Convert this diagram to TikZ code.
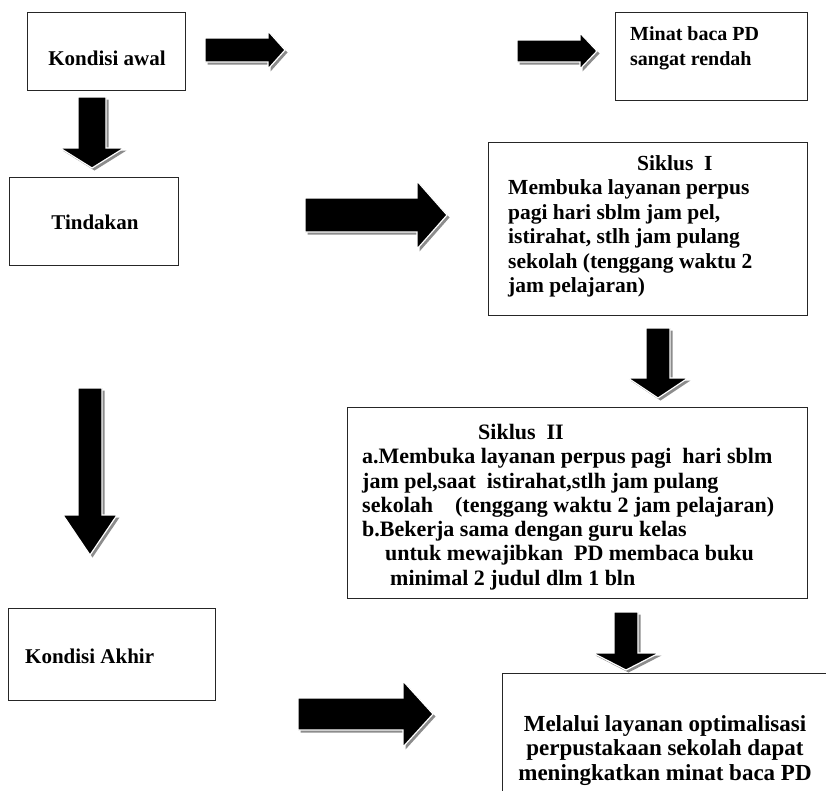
\documentclass[tikz,border=0pt]{standalone}
\usepackage{fontspec}
\setmainfont{Liberation Serif}
\usetikzlibrary{positioning}
\setlength{\lineskiplimit}{-100pt}

\tikzset{
  kotak/.style={draw=black!85, line width=1.3pt, fill=white, inner sep=0pt},
  teks/.style={inner sep=0pt, align=left, font=\bfseries\fontsize{21}{22.5}\selectfont},
  bayang/.style={fill=black!45},
  blok/.style={fill=black, draw=white, line width=1.2pt, line join=miter},
}

% block arrow to the right: x start, x head, x tip, y centre, half body, half head
\newcommand{\panahkanan}[6]{%
  \fill[bayang, shift={(2.5,2.5)}] (#1,{#4-#5}) -- (#2,{#4-#5}) -- (#2,{#4-#6}) -- (#3,#4)
    -- (#2,{#4+#6}) -- (#2,{#4+#5}) -- (#1,{#4+#5}) -- cycle;
  \filldraw[blok] (#1,{#4-#5}) -- (#2,{#4-#5}) -- (#2,{#4-#6}) -- (#3,#4)
    -- (#2,{#4+#6}) -- (#2,{#4+#5}) -- (#1,{#4+#5}) -- cycle;}

% block arrow downwards: x centre, y start, y head, y tip, half body, half head
\newcommand{\panahbawah}[6]{%
  \fill[bayang, shift={(2.5,2.5)}] ({#1-#5},#2) -- ({#1+#5},#2) -- ({#1+#5},#3) -- ({#1+#6},#3)
    -- (#1,#4) -- ({#1-#6},#3) -- ({#1-#5},#3) -- cycle;
  \filldraw[blok] ({#1-#5},#2) -- ({#1+#5},#2) -- ({#1+#5},#3) -- ({#1+#6},#3)
    -- (#1,#4) -- ({#1-#6},#3) -- ({#1-#5},#3) -- cycle;}

\begin{document}
\begin{tikzpicture}[x=1pt, y=-1pt]
\useasboundingbox (0,0) rectangle (826,790);
\clip (0,0) rectangle (826,790);

% kotak
\node[kotak, anchor=north west, minimum width=158pt, minimum height=78pt] (awal) at (27,12) {};
\node[kotak, anchor=north west, minimum width=192pt, minimum height=88pt] (minat) at (615,12) {};
\node[kotak, anchor=north west, minimum width=169pt, minimum height=88pt] (tindakan) at (9,177) {};
\node[kotak, anchor=north west, minimum width=319pt, minimum height=173pt] (siklus1) at (488,142) {};
\node[kotak, anchor=north west, minimum width=460pt, minimum height=191pt] (siklus2) at (347,407) {};
\node[kotak, anchor=north west, minimum width=207pt, minimum height=92pt] (akhir) at (8,608) {};
\node[kotak, anchor=north west, minimum width=340pt, minimum height=130pt] (hasil) at (502,673) {};

% teks
\node[teks, anchor=base] (awalT) at (107,65) {Kondisi awal};
\node[teks, anchor=north west, font=\bfseries\fontsize{20}{25}\selectfont] (minatT) at (630,26)
  {Minat baca PD\\sangat rendah};
\node[teks, anchor=base] (tindakanT) at (95,229) {Tindakan};
\node[teks, anchor=north west, font=\bfseries\fontsize{21.5}{24.5}\selectfont] (siklus1T) at (508,155)
  {\hspace*{129pt}Siklus\ \ I\\
   Membuka layanan perpus\\
   pagi hari sblm jam pel,\\
   istirahat, stlh jam pulang\\
   sekolah (tenggang waktu 2\\
   jam pelajaran)};
\node[teks, anchor=north west, font=\bfseries\fontsize{22}{24.3}\selectfont] (siklus2T) at (362,424)
  {\hspace*{116pt}Siklus\ \ II\\
   a.Membuka layanan perpus pagi\ \ hari sblm\\
   jam pel,saat\ \ istirahat,stlh jam pulang\\
   sekolah\ \ \ \ (tenggang waktu 2 jam pelajaran)\\
   b.Bekerja sama dengan guru kelas\\
   \hspace*{23pt}untuk mewajibkan\ \ PD membaca buku\\
   \hspace*{28pt}minimal 2 judul dlm 1 bln};
\node[teks, anchor=base west] (akhirT) at (25,663) {Kondisi Akhir};
\node[teks, anchor=north, align=center, font=\bfseries\fontsize{23}{24.5}\selectfont] (hasilT) at (665,715)
  {Melalui layanan optimalisasi\\
   perpustakaan sekolah dapat\\
   meningkatkan minat baca PD};

% panah
\panahkanan{205}{268}{285}{50}{12}{19}
\panahkanan{517}{580}{597}{51}{11}{18}
\panahkanan{305}{417}{447}{215}{17}{34}
\panahkanan{298}{403}{433}{714}{16}{33}
\panahbawah{92}{97}{148}{168}{14}{32}
\panahbawah{658}{328}{378}{398}{12}{30}
\panahbawah{90}{388}{515}{555}{12}{27}
\panahbawah{626}{612}{653}{670}{12}{33}

\end{tikzpicture}
\end{document}
